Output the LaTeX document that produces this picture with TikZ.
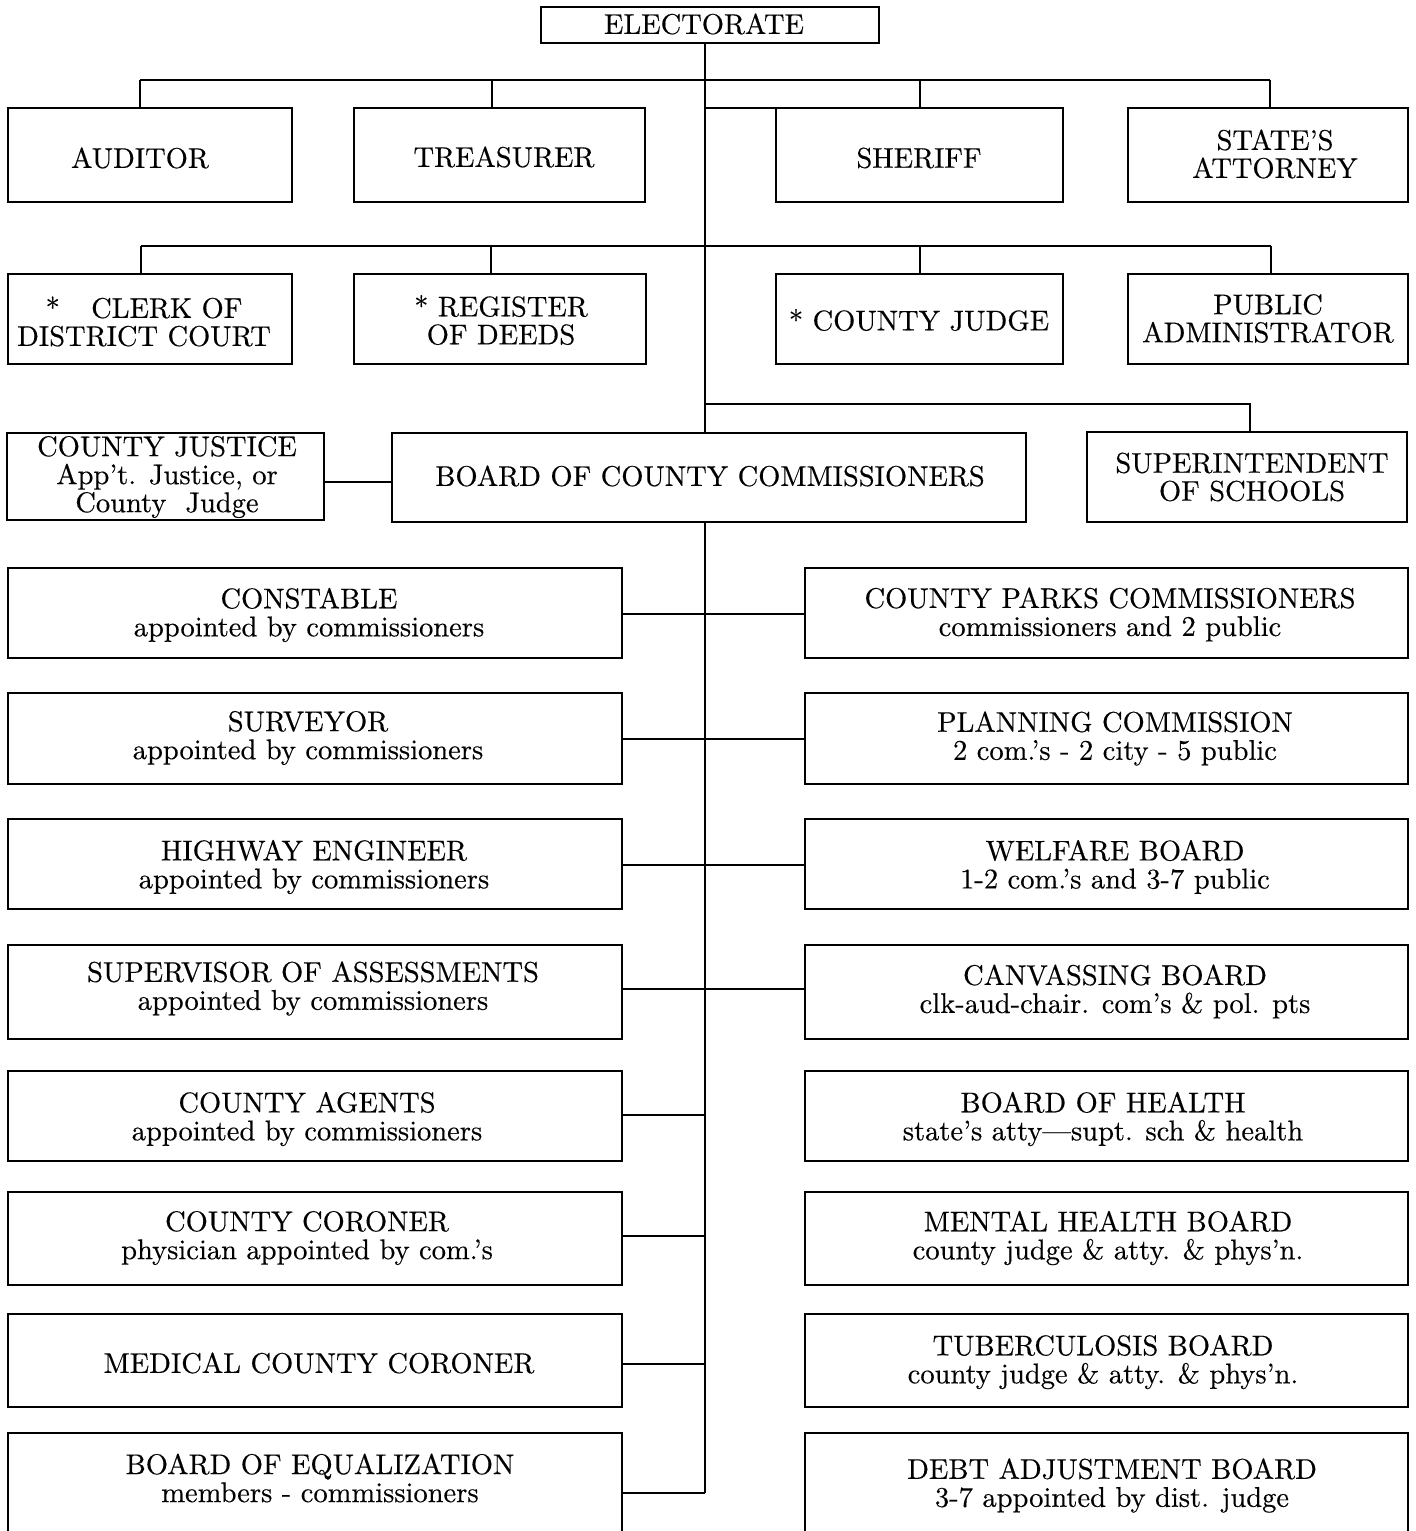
\documentclass[tikz,border=0pt]{standalone}
\usepackage{fontspec}
% a slightly heavier face for the box texts
\newfontfamily\boxface{Latin Modern Roman}[FakeBold=0.35]
% one box: name, left, top, right, bottom (px), text centre x, y, text
\newcommand\orgbox[8]{%
  \node[box, minimum width={(#4-#2)*0.36pt}, minimum height={(#5-#3)*0.36pt}]
    (#1) at ({(#2+#4)/2},{(#3+#5)/2}) {};
  \node[lbl] (#1-t) at (#6,#7) {#8};}
\begin{document}
\begin{tikzpicture}[x=0.36pt,y=-0.36pt,
  box/.style={draw, line width=0.85pt, rectangle, inner sep=0pt, outer sep=0pt},
  lbl/.style={align=center, inner sep=0pt, font=\boxface\fontsize{10.26}{10.08}\selectfont},
  wire/.style={line width=0.8pt}]
\useasboundingbox (0,0) rectangle (1415,1531);
\clip (0,0) rectangle (1415,1531);
\coordinate (spx) at (705,0);

% elected offices
\orgbox{elect}{541}{7}{879}{43}{704}{24}{ELECTORATE}
\orgbox{aud}{8}{108}{292}{202}{140}{158}{AUDITOR}
\orgbox{tre}{354}{108}{645}{202}{504}{157}{TREASURER}
\orgbox{she}{776}{108}{1063}{202}{919}{158}{SHERIFF}
\orgbox{sta}{1128}{108}{1408}{202}{1275}{154}{STATE’S\\ATTORNEY}
\orgbox{clk}{8}{274}{292}{364}{144}{321.5}{*\hspace{1.1em}CLERK OF\\DISTRICT COURT}
\orgbox{reg}{354}{274}{646}{364}{501}{320}{* REGISTER\\OF DEEDS}
\orgbox{cjd}{776}{274}{1063}{364}{919}{320}{* COUNTY JUDGE}
\orgbox{pub}{1128}{274}{1408}{364}{1268}{318.5}{PUBLIC\\ADMINISTRATOR}
\orgbox{cju}{7}{433}{324}{520}{167}{477}{COUNTY JUSTICE\\App’t. Justice, or\\County\ \ Judge}
\orgbox{brd}{392}{433}{1026}{522}{710}{476}{BOARD OF COUNTY COMMISSIONERS}
\orgbox{sup}{1087}{432}{1407}{522}{1252}{477}{SUPERINTENDENT\\OF SCHOOLS}

% appointed offices and boards
\orgbox{la}{8}{568}{622}{658}{309}{615}{CONSTABLE\\appointed by commissioners}
\orgbox{ra}{805}{568}{1408}{658}{1110}{614.5}{COUNTY PARKS COMMISSIONERS\\commissioners and 2 public}
\orgbox{lb}{8}{693}{622}{784}{308}{738}{SURVEYOR\\appointed by commissioners}
\orgbox{rb}{805}{693}{1408}{784}{1115}{738.5}{PLANNING COMMISSION\\2 com.’s - 2 city - 5 public}
\orgbox{lc}{8}{819}{622}{909}{314}{867}{HIGHWAY ENGINEER\\appointed by commissioners}
\orgbox{rc}{805}{819}{1408}{909}{1115}{867}{WELFARE BOARD\\1-2 com.’s and 3-7 public}
\orgbox{ld}{8}{945}{622}{1039}{313}{988.5}{SUPERVISOR OF ASSESSMENTS\\appointed by commissioners}
\orgbox{rd}{805}{945}{1408}{1039}{1115}{991.5}{CANVASSING BOARD\\clk-aud-chair. com’s \& pol. pts}
\orgbox{le}{8}{1071}{622}{1161}{307}{1119}{COUNTY AGENTS\\appointed by commissioners}
\orgbox{re}{805}{1071}{1408}{1161}{1103}{1119}{BOARD OF HEALTH\\state’s atty—supt. sch \& health}
\orgbox{lf}{8}{1192}{622}{1285}{307}{1238}{COUNTY CORONER\\physician appointed by com.’s}
\orgbox{rf}{805}{1192}{1408}{1285}{1108}{1238}{MENTAL HEALTH BOARD\\county judge \& atty. \& phys’n.}
\orgbox{lg}{8}{1314}{622}{1407}{319}{1363}{MEDICAL COUNTY CORONER}
\orgbox{rg}{805}{1314}{1408}{1407}{1103}{1362}{TUBERCULOSIS BOARD\\county judge \& atty. \& phys’n.}
\orgbox{lh}{8}{1433}{622}{1570}{320}{1478}{BOARD OF EQUALIZATION\\members - commissioners}
\orgbox{rh}{805}{1433}{1408}{1570}{1112}{1485.5}{DEBT ADJUSTMENT BOARD\\3-7 appointed by dist. judge}

% main spine
\draw[wire] (elect.south -| spx) -- (brd.north -| spx);
\coordinate (sb) at (705,1493);
\draw[wire] (brd.south -| spx) -- (sb);

% first tier of elected offices
\coordinate (ta) at (140,80);  \coordinate (tb) at (492,80);
\coordinate (tc) at (920,80);  \coordinate (td) at (1270,80);
\draw[wire] (ta) -- (td);
\foreach \c/\b in {ta/aud,tb/tre,tc/she,td/sta}
  \draw[wire] (\c) -- (\c |- \b.north);
\draw[wire] (she.north west) -- (she.north west -| spx);

% second tier of elected offices
\coordinate (ua) at (141,246); \coordinate (ub) at (491,246);
\coordinate (uc) at (920,246); \coordinate (ud) at (1271,246);
\draw[wire] (ua) -- (ud);
\foreach \c/\b in {ua/clk,ub/reg,uc/cjd,ud/pub}
  \draw[wire] (\c) -- (\c |- \b.north);

% superintendent branch
\coordinate (sv) at (705,404); \coordinate (sw) at (1250,404);
\draw[wire] (sv) -- (sw) -- (sw |- sup.north);

% county justice link
\coordinate (jy) at (0,482);
\draw[wire] (cju.east |- jy) -- (brd.west |- jy);

% rows joined across the spine
\foreach \l/\r/\y in {la/ra/614, lb/rb/739, lc/rc/865, ld/rd/989}{
  \path (0,\y) coordinate (rowy);
  \draw[wire] (\l.east |- rowy) -- (\r.west |- rowy);}

% rows joined on the left only
\foreach \l/\y in {le/1115, lf/1236, lg/1364, lh/1493}{
  \path (0,\y) coordinate (rowy);
  \draw[wire] (\l.east |- rowy) -- (spx |- rowy);}
\end{tikzpicture}
\end{document}
